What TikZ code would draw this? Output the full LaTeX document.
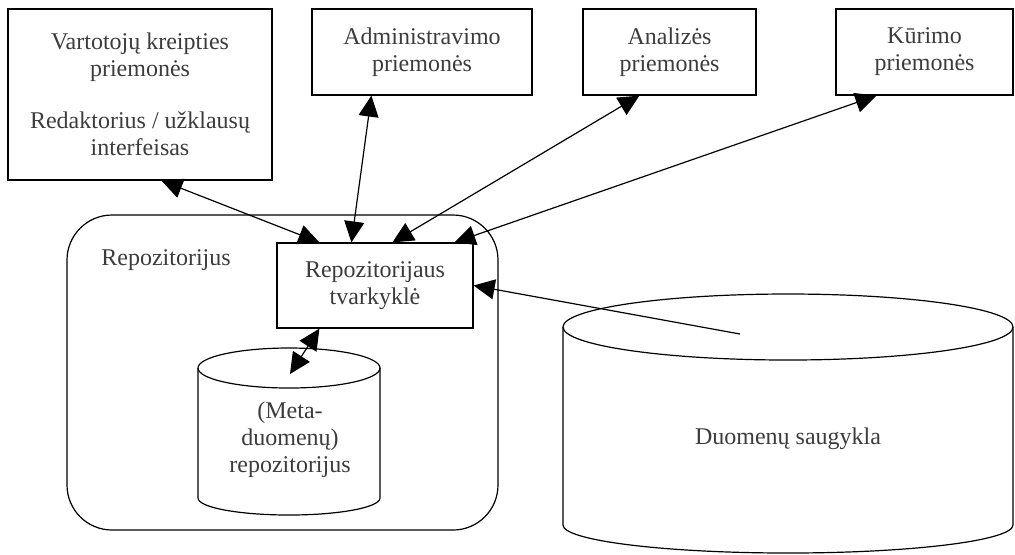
\documentclass[tikz,border=0pt]{standalone}
\usepackage{fontspec}
\setmainfont{Liberation Serif}
\usetikzlibrary{arrows.meta}
\definecolor{txt}{RGB}{60,60,60}
\begin{document}
\begin{tikzpicture}[x=0.5pt,y=-0.5pt,
  line width=0.6pt,
  every node/.style={font=\fontsize{12}{13.5}\selectfont, text=txt},
  toolbox/.style={draw, inner sep=0pt, align=center},
  tip/.style={Triangle[length=10.5pt,width=10pt]},
  link/.style={{Triangle[length=10.5pt,width=10pt]}-{Triangle[length=10.5pt,width=10pt]}},
  onelink/.style={-{Triangle[length=10.5pt,width=10pt]}}]
  \useasboundingbox (0,0) rectangle (1015,554);

  % tool boxes along the top
  \node[toolbox, minimum width=132pt, minimum height=85.5pt] (users) at (140,94.5)
    {Vartotojų kreipties\\ priemonės\\[12.5pt] Redaktorius / užklausų\\ interfeisas};
  \node[toolbox, minimum width=110pt, minimum height=43pt] (admin) at (422,52)
    {Administravimo\\ priemonės};
  \node[toolbox, minimum width=86.5pt, minimum height=43pt] (anal) at (669.5,52)
    {Analizės\\ priemonės};
  \node[toolbox, minimum width=88.5pt, minimum height=43pt] (dev) at (924.5,52)
    {Kūrimo\\ priemonės};

  % repository frame
  \draw[rounded corners=22.5pt] (67,215) rectangle (498,530);
  \node[anchor=base] (repo) at (166,265) {Repozitorijus};

  % repository manager
  \node[toolbox, minimum width=98pt, minimum height=42.5pt] (mgr) at (375,285.5)
    {Repozitorijaus\\ tvarkyklė};

  % metadata repository cylinder
  \draw (198,368) -- (198,498) arc[start angle=180, end angle=0, x radius=91, y radius=17] -- (380,368);
  \draw (289,368) ellipse[x radius=91, y radius=20];
  \node[align=center] (meta) at (290,440) {(Meta-\\ duomenų)\\ repozitorijus};
  \coordinate (metatop) at (290,374);

  % data warehouse cylinder
  \draw (563,327) -- (563,525) arc[start angle=180, end angle=0, x radius=225, y radius=28] -- (1013,327);
  \draw (788,327) ellipse[x radius=225, y radius=33];
  \node[anchor=base] (dw) at (788,444) {Duomenų saugykla};
  \coordinate (dwtop) at (740,334);

  % connectors
  \draw[link] ([xshift=77pt]users.south west) -- ([xshift=21.5pt]mgr.north west);
  \draw[link] ([xshift=30pt]admin.south west) -- ([xshift=37.5pt]mgr.north west);
  \draw[link] ([xshift=28.5pt]anal.south west) -- ([xshift=58pt]mgr.north west);
  \draw[link] ([xshift=20.5pt]dev.south west) -- ([xshift=89pt]mgr.north west);
  \draw[onelink] (dwtop) -- (mgr.east);
  \draw[link] ([xshift=21.5pt]mgr.south west) -- (metatop);
\end{tikzpicture}
\end{document}
